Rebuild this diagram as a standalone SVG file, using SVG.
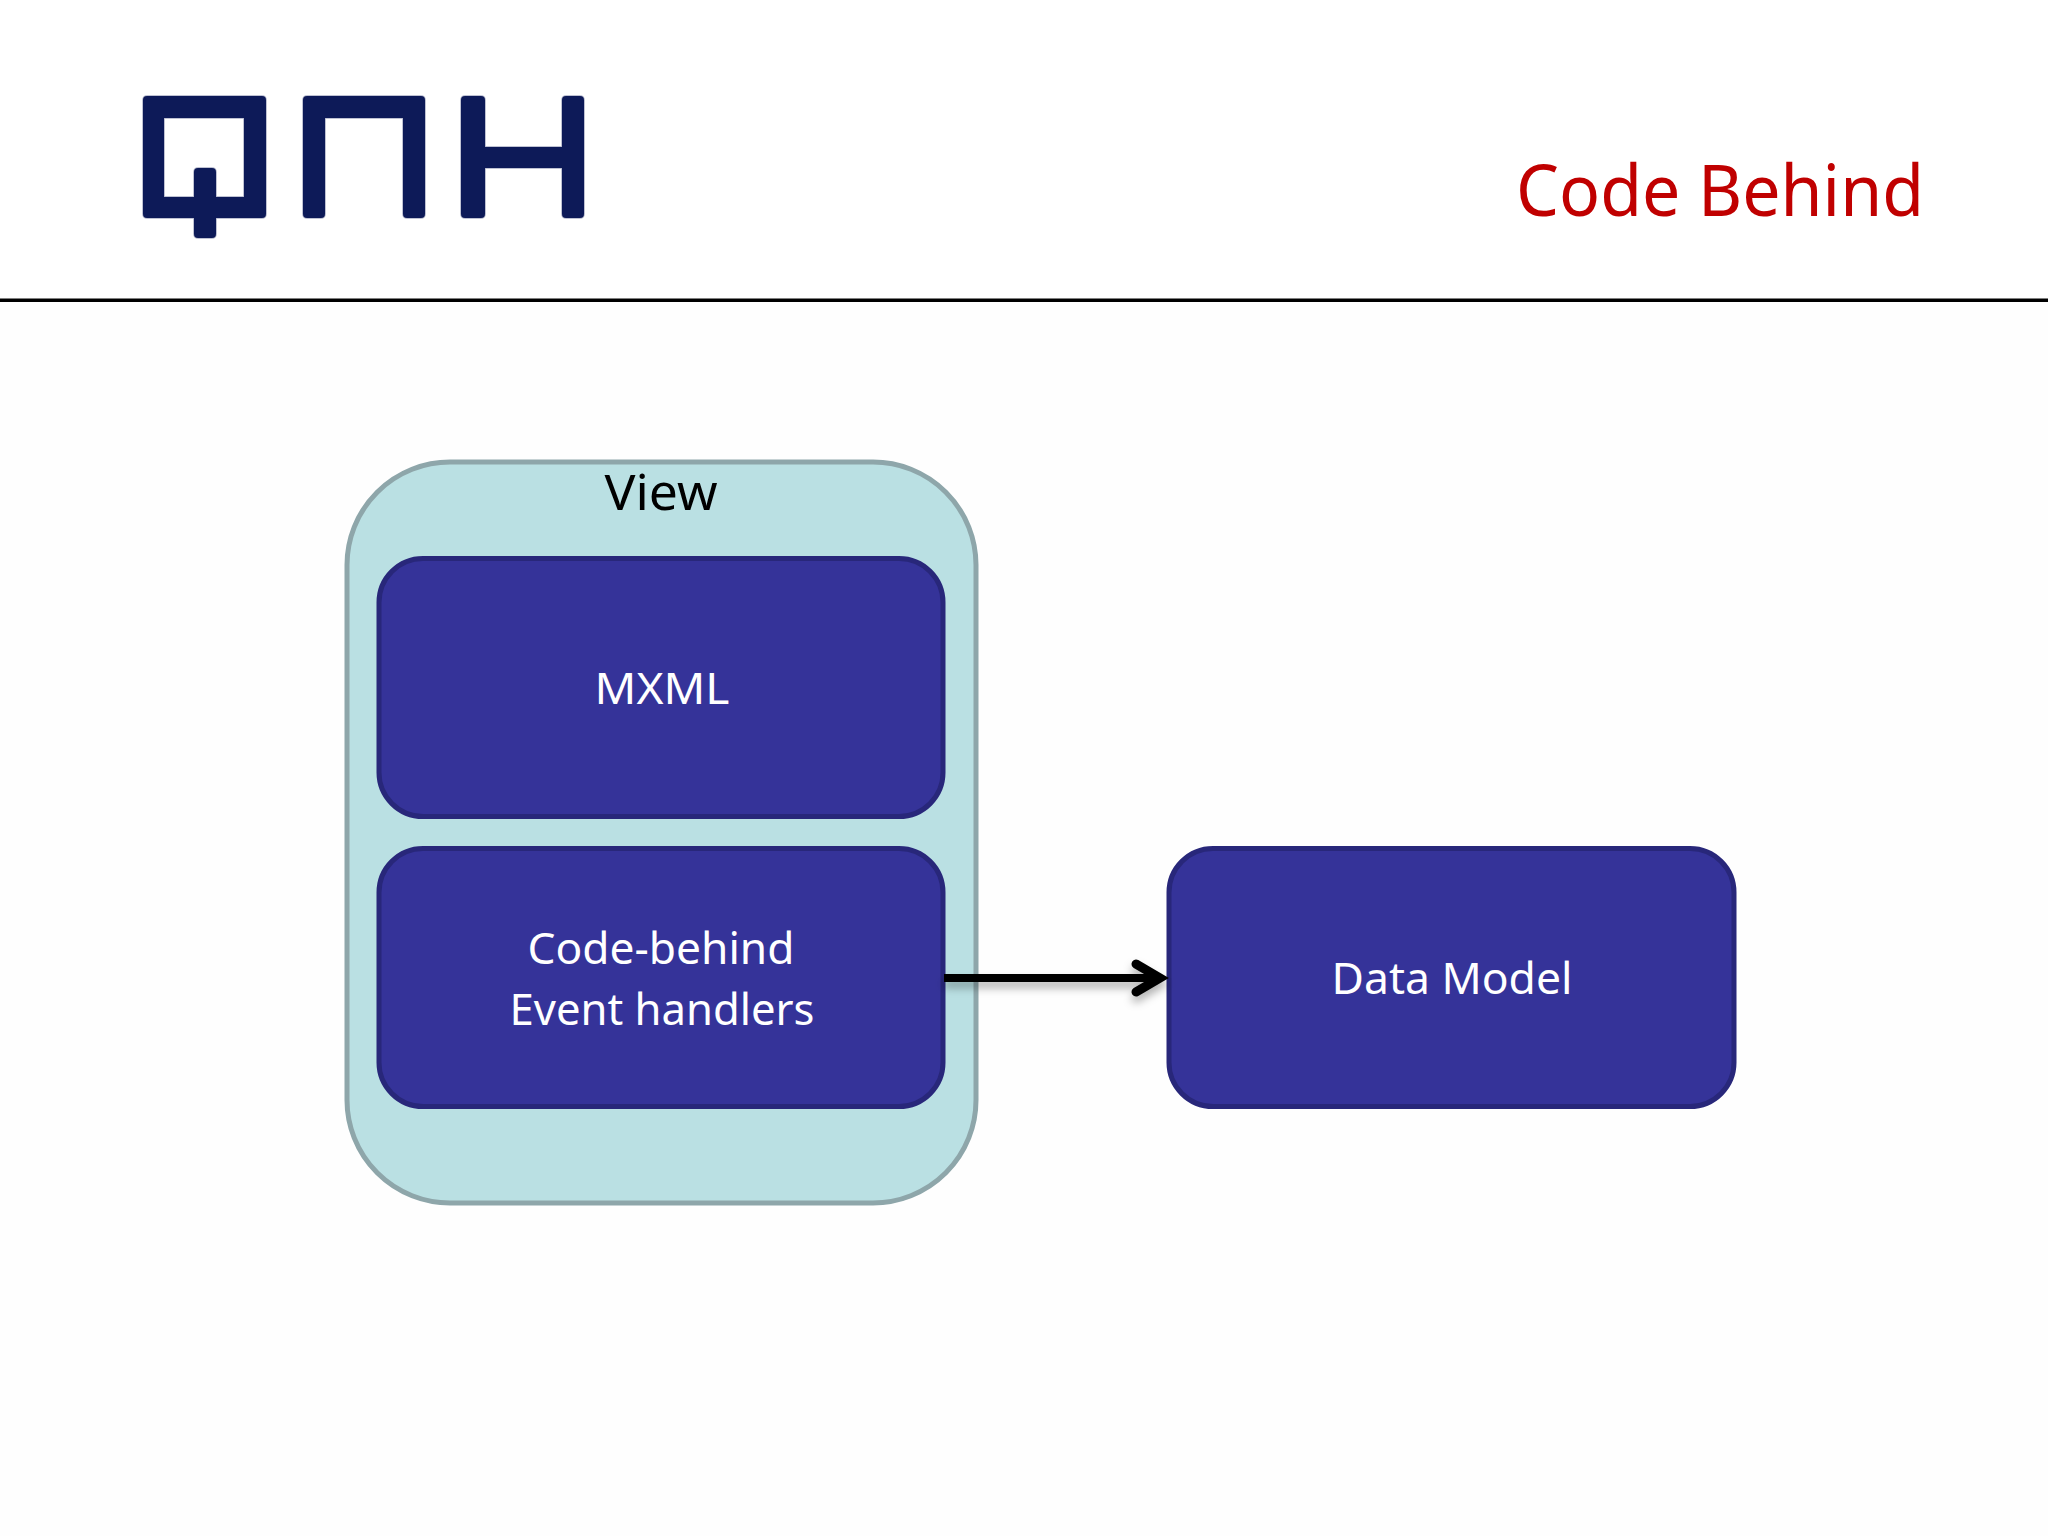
<svg xmlns="http://www.w3.org/2000/svg" width="2048" height="1536" viewBox="0 0 2048 1536">
<style>
text{font-family:"Noto Sans","Open Sans","Liberation Sans",sans-serif;text-anchor:middle}
.box{fill:#353399;stroke:#28277a;stroke-width:5}
.lbl{fill:#fff;font-size:44px}
.logo{fill:#0d1a58;stroke:#0d1a58;stroke-opacity:.35;stroke-width:1.5}
</style>
<defs>
<filter id="sh" x="-10%" y="-100%" width="120%" height="300%"><feDropShadow dx="0" dy="6" stdDeviation="4" flood-color="#000" flood-opacity="0.3"/></filter>
</defs>
<rect width="2048" height="1536" fill="#fefefe"/>
<rect width="2048" height="300" fill="#fff"/>
<g id="logo" class="logo">
<path fill-rule="evenodd" d="M147 96H262Q266 96 266 100V214Q266 218 262 218H216V234Q216 238 212 238H198Q194 238 194 234V218H147Q143 218 143 214V100Q143 96 147 96ZM164 118V197H194V172Q194 168 198 168H212Q216 168 216 172V197H244V118Z"/>
<path d="M307 96H421Q425 96 425 100V214Q425 218 421 218H407Q403 218 403 214V118H325V214Q325 218 321 218H307Q303 218 303 214V100Q303 96 307 96Z"/>
<path d="M465 96H481Q485 96 485 100V147H562V100Q562 96 566 96H580Q584 96 584 100V214Q584 218 580 218H566Q562 218 562 214V168H485V214Q485 218 481 218H465Q461 218 461 214V100Q461 96 465 96Z"/>
</g>
<text id="title" x="1720" y="216" fill="#c00000" font-size="71" textLength="408" lengthAdjust="spacingAndGlyphs">Code Behind</text>
<rect id="rule" x="0" y="298.500" width="2048" height="3.500" fill="#000"/>
<g id="view">
<rect x="347" y="462" width="629" height="741" rx="103" ry="103" fill="#bae0e3" stroke="#8ea6aa" stroke-width="5"/>
<text x="661" y="510" fill="#000" font-size="50" textLength="113" lengthAdjust="spacingAndGlyphs">View</text>
</g>
<g id="mxml">
<rect class="box" x="379" y="558.500" width="564" height="258" rx="44"/>
<text class="lbl" x="662" y="704" textLength="135" lengthAdjust="spacingAndGlyphs">MXML</text>
</g>
<g id="code-behind">
<rect class="box" x="379" y="848.500" width="564" height="258" rx="44"/>
<text class="lbl" x="661" y="964" textLength="267" lengthAdjust="spacingAndGlyphs">Code-behind</text>
<text class="lbl" x="662" y="1025" textLength="305" lengthAdjust="spacingAndGlyphs">Event handlers</text>
</g>
<g id="data-model">
<rect class="box" x="1169" y="848.500" width="565" height="258" rx="44"/>
<text class="lbl" x="1452" y="994" textLength="241" lengthAdjust="spacingAndGlyphs">Data Model</text>
</g>
<g id="connectors" fill="none" stroke="#000" stroke-width="8" filter="url(#sh)">
<path d="M944 978H1160"/>
<path d="M1136 964L1160 978L1136 992" stroke-width="9" stroke-linecap="round"/>
</g>
</svg>
